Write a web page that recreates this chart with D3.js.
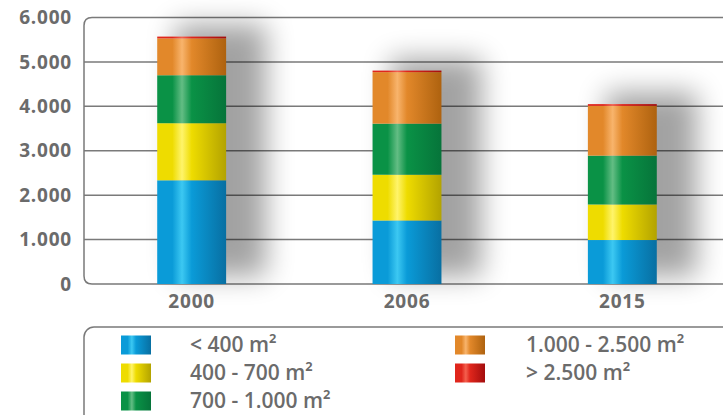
<!DOCTYPE html>
<html>
<head>
<meta charset="utf-8">
<script src="https://cdn.jsdelivr.net/npm/d3@7"></script>
<style>
    body { margin: 0; background: #fff; }
    svg { display: block; font-family: "Open Sans", sans-serif; }
</style>
</head>
<body>
<div id="chart"></div>
<script>
// values
const years = ["2000", "2006", "2015"];
const under400 = [2335, 1430, 990];
const from400to700 = [1285, 1030, 800];
const from700to1000 = [1080, 1150, 1100];
const from1000to2500 = [830, 1160, 1120];
const over2500 = [40, 35, 40];

const seriesNames = ["< 400 m²", "400 - 700 m²", "700 - 1.000 m²", "1.000 - 2.500 m²", "> 2.500 m²"];
const yTicks = [0, 1000, 2000, 3000, 4000, 5000, 6000];

// colours: [edge, highlight, dark edge]
const colors = [
    ["#0a9bd8", "#3cc8f2", "#086fa2"],
    ["#eedc00", "#fff46a", "#b3a300"],
    ["#0a9246", "#63bd84", "#06743a"],
    ["#e2882a", "#f8b46c", "#ae620f"],
    ["#e0261c", "#f4604e", "#a30d0d"]
];

const WIDTH = 723;
const HEIGHT = 415;
const textColor = "#6b6b6b";
const lineColor = "#7a7a7a";

const rows = years.map((y, i) => ({
    year: y,
    s0: under400[i], s1: from400to700[i], s2: from700to1000[i], s3: from1000to2500[i], s4: over2500[i]
}));
const keys = ["s0", "s1", "s2", "s3", "s4"];
const stacked = d3.stack().keys(keys)(rows);
const total = d => d.s0 + d.s1 + d.s2 + d.s3 + d.s4;

const svg = d3.select("#chart").append("svg")
    .attr("width", WIDTH)
    .attr("height", HEIGHT);

const defs = svg.append("defs");
colors.forEach((c, i) => {
    const g = defs.append("linearGradient").attr("id", "grad" + i)
        .attr("x1", "0%").attr("x2", "100%").attr("y1", "0%").attr("y2", "0%");
    g.append("stop").attr("offset", "0%").attr("stop-color", c[0]);
    g.append("stop").attr("offset", "22%").attr("stop-color", c[0]);
    g.append("stop").attr("offset", "36%").attr("stop-color", c[1]);
    g.append("stop").attr("offset", "50%").attr("stop-color", c[0]);
    g.append("stop").attr("offset", "100%").attr("stop-color", c[2]);
});
defs.append("filter").attr("id", "blur")
    .attr("x", "-100%").attr("y", "-50%").attr("width", "300%").attr("height", "200%")
    .append("feGaussianBlur").attr("stdDeviation", 14);

// scales
const x = d3.scaleBand()
    .domain(years)
    .range([84, 730])
    .paddingInner(0.68)
    .paddingOuter(0.34);

const y = d3.scaleLinear()
    .domain([0, 6000])
    .range([284, 17.5]);

const locale = d3.formatLocale({decimal: ",", thousands: ".", grouping: [3], currency: ["", ""]});
const fmt = locale.format(",");

// gridlines
svg.append("g")
    .selectAll("line")
    .data(yTicks.filter(d => d > 0 && d < 6000))
    .join("line")
    .attr("x1", 84).attr("x2", WIDTH)
    .attr("y1", d => y(d)).attr("y2", d => y(d))
    .attr("stroke", lineColor)
    .attr("stroke-width", 1.5);

// frame with rounded left corners
const r = 8;
svg.append("path")
    .attr("d", `M${WIDTH + 5},${y(6000)} H${84 + r} Q84,${y(6000)} 84,${y(6000) + r} V${y(0) - r} Q84,${y(0)} ${84 + r},${y(0)} H${WIDTH + 5}`)
    .attr("fill", "none")
    .attr("stroke", lineColor)
    .attr("stroke-width", 1.5);

// shadows
svg.append("g")
    .selectAll("rect")
    .data(rows)
    .join("rect")
    .attr("x", d => x(d.year) + 18)
    .attr("y", d => y(total(d)) - 12)
    .attr("width", x.bandwidth() + 22)
    .attr("height", d => y(0) - y(total(d)) + 4)
    .attr("fill", "#000")
    .attr("opacity", 0.36)
    .attr("filter", "url(#blur)");

// bars
svg.append("g")
    .selectAll("g")
    .data(stacked)
    .join("g")
    .attr("fill", (d, i) => `url(#grad${i})`)
    .selectAll("rect")
    .data(d => d)
    .join("rect")
    .attr("x", d => x(d.data.year))
    .attr("y", d => y(d[1]))
    .attr("width", x.bandwidth())
    .attr("height", d => y(d[0]) - y(d[1]));

// y axis labels
const yAxis = d3.axisLeft(y)
    .tickValues(yTicks)
    .tickFormat(d => fmt(d))
    .tickSize(0)
    .tickPadding(0);
const yg = svg.append("g")
    .attr("transform", "translate(72,0)")
    .call(yAxis);
yg.select(".domain").remove();
yg.selectAll("text")
    .attr("fill", textColor)
    .attr("font-size", 19)
    .attr("font-weight", 700)
    .attr("letter-spacing", 0.8)
    .attr("font-family", "'Open Sans', sans-serif");

// x axis labels
const xAxis = d3.axisBottom(x).tickSize(0).tickPadding(0);
const xg = svg.append("g")
    .attr("transform", "translate(0,294)")
    .call(xAxis);
xg.select(".domain").remove();
xg.selectAll("text")
    .attr("fill", textColor)
    .attr("font-size", 19)
    .attr("font-weight", 700)
    .attr("letter-spacing", 0.8)
    .attr("font-family", "'Open Sans', sans-serif");

// legend
svg.append("rect")
    .attr("x", 84).attr("y", 327)
    .attr("width", 700).attr("height", 120)
    .attr("rx", 10)
    .attr("fill", "none")
    .attr("stroke", lineColor)
    .attr("stroke-width", 1.5);

const legendPos = [
    {sx: 121, tx: 190, cy: 345},
    {sx: 121, tx: 190, cy: 373},
    {sx: 121, tx: 190, cy: 401},
    {sx: 455, tx: 526, cy: 345},
    {sx: 455, tx: 526, cy: 373}
];
const legend = svg.append("g")
    .selectAll("g")
    .data(seriesNames)
    .join("g")
    .attr("transform", (d, i) => `translate(0,${legendPos[i].cy})`);
legend.append("rect")
    .attr("x", (d, i) => legendPos[i].sx)
    .attr("y", -9.5)
    .attr("width", 30)
    .attr("height", 19)
    .attr("fill", (d, i) => `url(#grad${i})`);
legend.append("text")
    .attr("x", (d, i) => legendPos[i].tx)
    .attr("dy", "0.35em")
    .attr("fill", textColor)
    .attr("font-size", 21)
    .attr("font-weight", 600)
    .text(d => d);
</script>
</body>
</html>
